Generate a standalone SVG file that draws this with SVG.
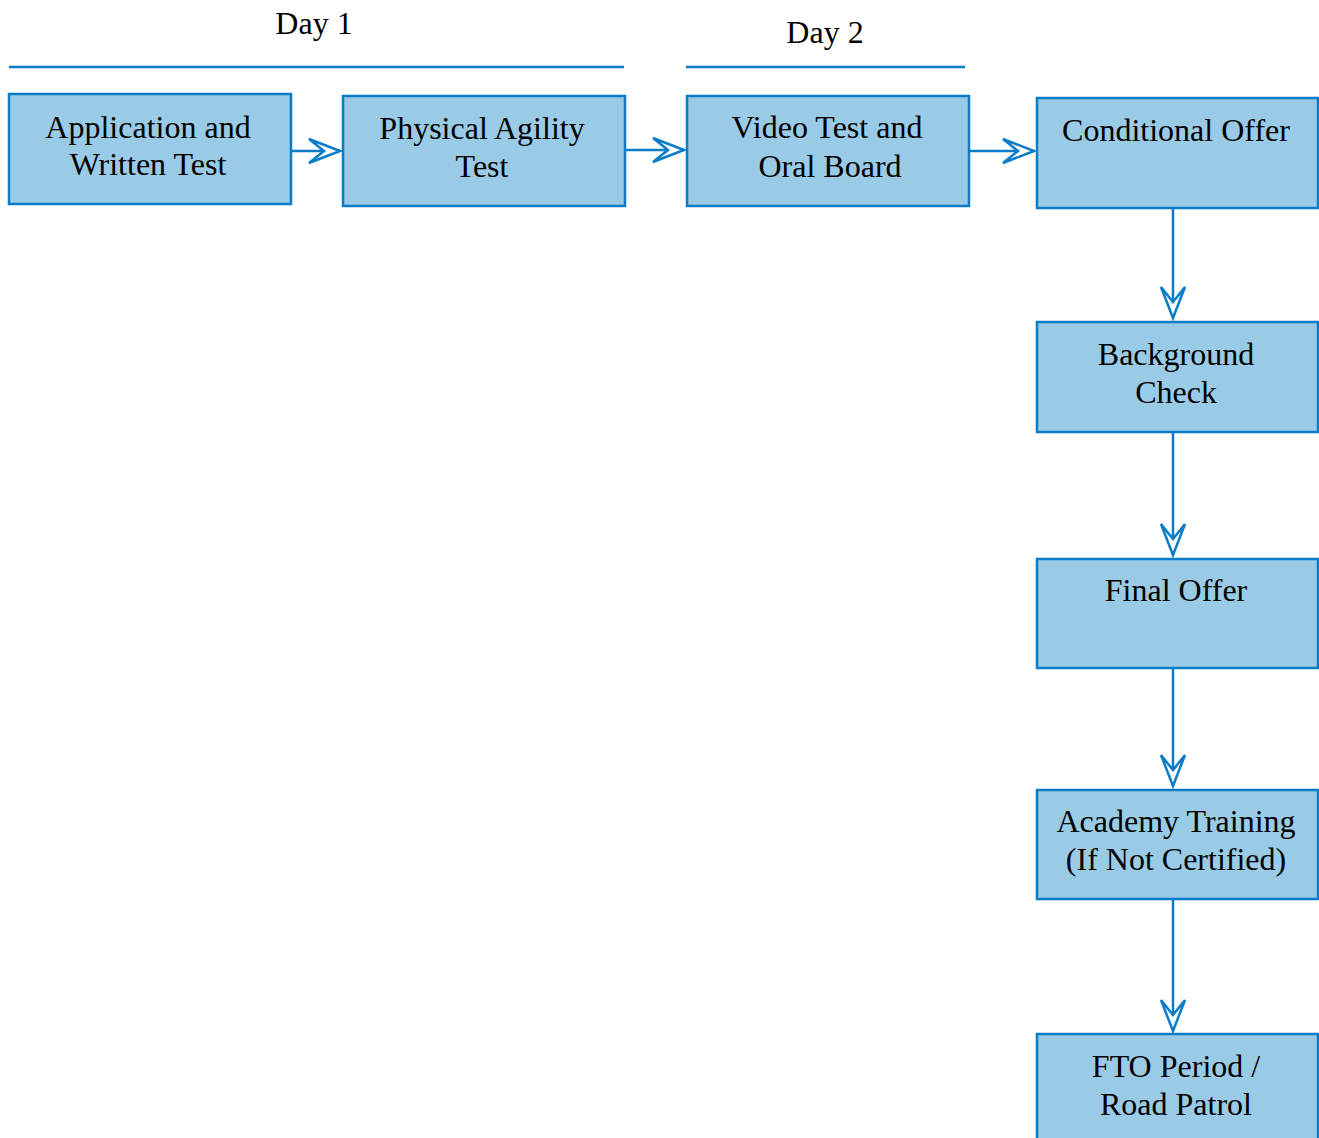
<svg xmlns="http://www.w3.org/2000/svg" width="1319" height="1138" viewBox="0 0 1319 1138">
<style>
.box{fill:#9acbe6;stroke:#0a7cc8;stroke-width:2.5}
.t{font-family:"Liberation Serif","Times New Roman",serif;font-size:32px;fill:#000;text-anchor:middle}
.c{stroke:#0a7cc8;stroke-width:2.5;fill:none}
</style>
<defs>
<marker id="ah" markerUnits="userSpaceOnUse" markerWidth="40" markerHeight="34" viewBox="-34 -17 40 34" refX="0" refY="0" orient="auto">
<path d="M0,0 L-31,-12 L-16,0 L-31,12 Z" fill="#fff" stroke="#0a7cc8" stroke-width="2.5" stroke-linejoin="miter"/>
</marker>
</defs>
<rect width="1319" height="1138" fill="#fff"/>
<g id="headers">
<line class="c" x1="9" y1="67" x2="624" y2="67"/>
<line class="c" x1="686" y1="67" x2="965" y2="67"/>
<text class="t" x="314" y="34">Day 1</text>
<text class="t" x="825" y="43">Day 2</text>
</g>
<g id="connectors">
<line class="c" x1="291" y1="151" x2="340" y2="151" marker-end="url(#ah)"/>
<line class="c" x1="625" y1="150" x2="684" y2="150" marker-end="url(#ah)"/>
<line class="c" x1="969" y1="151" x2="1034" y2="151" marker-end="url(#ah)"/>
<line class="c" x1="1173" y1="208" x2="1173" y2="318" marker-end="url(#ah)"/>
<line class="c" x1="1173" y1="432" x2="1173" y2="555" marker-end="url(#ah)"/>
<line class="c" x1="1173" y1="668" x2="1173" y2="786" marker-end="url(#ah)"/>
<line class="c" x1="1173" y1="899" x2="1173" y2="1031" marker-end="url(#ah)"/>
</g>
<g id="n1"><rect class="box" x="9" y="94" width="282" height="110"/>
<text class="t" x="148" y="138">Application and</text><text class="t" x="148" y="175">Written Test</text></g>
<g id="n2"><rect class="box" x="343" y="96" width="282" height="110"/>
<text class="t" x="482" y="139">Physical Agility</text><text class="t" x="482" y="177">Test</text></g>
<g id="n3"><rect class="box" x="687" y="96" width="282" height="110"/>
<text class="t" x="827" y="138">Video Test and</text><text class="t" x="830" y="177">Oral Board</text></g>
<g id="n4"><rect class="box" x="1037" y="98" width="281" height="110"/>
<text class="t" x="1176" y="141">Conditional Offer</text></g>
<g id="n5"><rect class="box" x="1037" y="322" width="281" height="110"/>
<text class="t" x="1176" y="365">Background</text><text class="t" x="1176" y="403">Check</text></g>
<g id="n6"><rect class="box" x="1037" y="559" width="281" height="109"/>
<text class="t" x="1176" y="601">Final Offer</text></g>
<g id="n7"><rect class="box" x="1037" y="790" width="281" height="109"/>
<text class="t" x="1176" y="832">Academy Training</text><text class="t" x="1176" y="870">(If Not Certified)</text></g>
<g id="n8"><rect class="box" x="1037" y="1034" width="281" height="110"/>
<text class="t" x="1176" y="1077">FTO Period /</text><text class="t" x="1176" y="1115">Road Patrol</text></g>
</svg>
